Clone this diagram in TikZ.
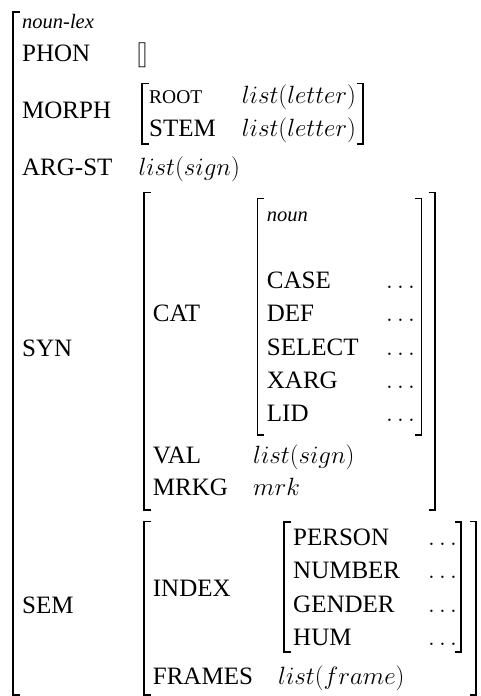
\RequirePackage{fix-cm}
\documentclass[tikz,border=0pt]{standalone}
\usepackage{fontspec}
\setmainfont{Liberation Serif}
\newfontfamily\sortfont{Liberation Serif Italic}
% square brackets of an attribute-value matrix: x, top, bottom
\newcommand\avmL[3]{\draw[brk] (#1+6.5,#2) -- (#1,#2) -- (#1,#3) -- (#1+6.5,#3);}
\newcommand\avmR[3]{\draw[brk] (#1-6.5,#2) -- (#1,#2) -- (#1,#3) -- (#1-6.5,#3);}
\begin{document}
\begin{tikzpicture}[x=1pt,y=-1pt,
  feat/.style={anchor=base west,inner sep=0pt,font=\fontsize{25}{29}\selectfont},
  sortname/.style={anchor=base west,inner sep=0pt,font=\fontsize{20.5}{24}\sortfont},
  smallcap/.style={anchor=base west,inner sep=0pt,font=\fontsize{19.5}{23}\selectfont},
  brk/.style={line width=1.2pt,line cap=butt,line join=miter}]
\useasboundingbox (0,0) rectangle (481,696);

% brackets
\avmL{13}{12}{695}
\avmL{142}{83.3}{144}   \avmR{363}{83.3}{144}
\avmL{144}{192.7}{510}  \avmR{435}{192.7}{510}
\avmL{257.7}{198.3}{435} \avmR{421.5}{198.3}{435}
\avmL{144}{521.7}{695}  \avmR{476}{521.7}{695}
\avmL{284}{522}{652}    \avmR{461}{522}{652}

% top level
\node[sortname] (nounlex) at (22,28) {noun-lex};
\node[feat] (phon) at (22,61.7) {PHON};
\node[feat] (phonv) at (136,61.7) {$[\mkern-0.5mu]$};
\node[feat] (morph) at (22,118.3) {MORPH};
\node[smallcap] (root) at (149,103.3) {ROOT};
\node[feat] (rootv) at (241.7,103.3) {$list(letter)$};
\node[feat] (stem) at (149,136.7) {STEM};
\node[feat] (stemv) at (241.7,136.7) {$list(letter)$};
\node[feat] (argst) at (22,175) {ARG-ST};
\node[feat] (argstv) at (138.3,175) {$list(sign)$};

% SYN
\node[feat] (syn) at (22,356.7) {SYN};
\node[feat] (cat) at (152.7,321.7) {CAT};
\node[sortname] (noun) at (266.7,221.7) {noun};
\node[feat] (case) at (266.7,288.3) {CASE};
\node[feat] (def) at (266.7,321.7) {DEF};
\node[feat] (select) at (266.7,355) {SELECT};
\node[feat] (xarg) at (266.7,388.3) {XARG};
\node[feat] (lid) at (266.7,421.7) {LID};
\node[feat] (casev) at (386,288.3) {$\ldots$};
\node[feat] (defv) at (386,321.7) {$\ldots$};
\node[feat] (selectv) at (386,355) {$\ldots$};
\node[feat] (xargv) at (386,388.3) {$\ldots$};
\node[feat] (lidv) at (386,421.7) {$\ldots$};
\node[feat] (val) at (152.7,463.3) {VAL};
\node[feat] (valv) at (253,463.3) {$list(sign)$};
\node[feat] (mrkg) at (152.7,495) {MRKG};
\node[feat] (mrkgv) at (253,495) {$mrk$};

% SEM
\node[feat] (sem) at (22,613) {SEM};
\node[feat] (index) at (152.7,596.7) {INDEX};
\node[feat] (person) at (293,545) {PERSON};
\node[feat] (number) at (293,578) {NUMBER};
\node[feat] (gender) at (293,612) {GENDER};
\node[feat] (hum) at (293,645) {HUM};
\node[feat] (personv) at (428,545) {$\ldots$};
\node[feat] (numberv) at (428,578) {$\ldots$};
\node[feat] (genderv) at (428,612) {$\ldots$};
\node[feat] (humv) at (428,645) {$\ldots$};
\node[feat] (frames) at (152.7,684) {FRAMES};
\node[feat] (framesv) at (278,684) {$list(frame)$};
\end{tikzpicture}
\end{document}
